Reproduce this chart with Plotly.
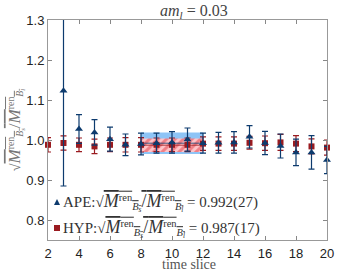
import plotly.graph_objects as go

# ---- data ----
t_ape = [3, 4, 5, 6, 7, 8, 9, 10, 11, 12, 13, 14, 15, 16, 17, 18, 19, 20]
ape_val = [1.123, 1.0275, 1.019, 1.002, 0.988, 0.990, 0.992, 0.994, 1.001, 0.992, 0.993, 0.994, 1.008, 0.9925, 0.985, 0.969, 0.969, 0.950]
ape_err = [0.238, 0.036, 0.032, 0.030, 0.027, 0.027, 0.025, 0.027, 0.029, 0.025, 0.026, 0.027, 0.028, 0.029, 0.030, 0.033, 0.042, 0.034]

t_hyp = [2, 3, 4, 5, 6, 7, 8, 9, 10, 11, 12, 13, 14, 15, 16, 17, 18, 19, 20]
hyp_val = [0.988, 0.9925, 0.988, 0.984, 0.988, 0.988, 0.988, 0.988, 0.988, 0.988, 0.991, 0.991, 0.991, 0.993, 0.992, 0.994, 0.991, 0.984, 0.981]
hyp_err = [0.018, 0.018, 0.017, 0.018, 0.017, 0.018, 0.018, 0.017, 0.017, 0.017, 0.017, 0.017, 0.017, 0.016, 0.018, 0.020, 0.020, 0.019, 0.019]

fit_range = [8, 12]
ape_fit, ape_fit_err = 0.992, 0.027
hyp_fit, hyp_fit_err = 0.987, 0.017

x_ticks = [2, 4, 6, 8, 10, 12, 14, 16, 18, 20]
y_ticks = [0.8, 0.9, 1.0, 1.1, 1.2, 1.3]
legend_labels = ["APE", "HYP"]
legend_values = ["0.992(27)", "0.987(17)"]

BLUE = "#0d3b6e"
RED = "#9a1b20"
SERIF = "Liberation Serif, DejaVu Serif, serif"
SANS = "Liberation Sans, Arial, sans-serif"

def ratio_txt(big):
    s = "<span style='font-size:%dpx'>" % big
    return ("√<span style='text-decoration:overline'>" + s + "<i>M</i></span><sup>ren</sup><sub><i>B<sub>s</sub></i></sub>"
            + s + "/<i>M</i></span><sup>ren</sup><sub><i>B<sub>l</sub></i></sub></span>")

fig = go.Figure()

# fit bands
x0, x1 = fit_range
fig.add_trace(go.Scatter(
    x=[x0, x1, x1, x0, x0],
    y=[ape_fit - ape_fit_err, ape_fit - ape_fit_err, ape_fit + ape_fit_err, ape_fit + ape_fit_err, ape_fit - ape_fit_err],
    fill="toself", fillcolor="rgba(130,190,245,0.9)", mode="lines", line=dict(width=0),
    showlegend=False, hoverinfo="skip"))
fig.add_trace(go.Scatter(
    x=[x0, x1, x1, x0, x0],
    y=[hyp_fit - hyp_fit_err, hyp_fit - hyp_fit_err, hyp_fit + hyp_fit_err, hyp_fit + hyp_fit_err, hyp_fit - hyp_fit_err],
    fill="toself", mode="lines", line=dict(width=0),
    fillpattern=dict(shape="/", fgcolor="#e23a44", bgcolor="#ffc4c8", size=6, solidity=0.5),
    showlegend=False, hoverinfo="skip"))
fig.add_trace(go.Scatter(x=[x0, x1], y=[ape_fit, ape_fit], mode="lines",
                         line=dict(color=BLUE, width=0.8), showlegend=False, hoverinfo="skip"))
fig.add_trace(go.Scatter(x=[x0, x1], y=[hyp_fit, hyp_fit], mode="lines",
                         line=dict(color=RED, width=0.8), showlegend=False, hoverinfo="skip"))

# HYP points
fig.add_trace(go.Scatter(
    x=t_hyp, y=hyp_val, mode="markers",
    error_y=dict(type="data", array=hyp_err, color=RED, thickness=1.2, width=3),
    marker=dict(symbol="square", size=6, color=RED),
    cliponaxis=False, showlegend=False, name=legend_labels[1]))

# APE points (first one clipped at the axis)
fig.add_trace(go.Scatter(
    x=t_ape[:1], y=ape_val[:1], mode="markers",
    error_y=dict(type="data", array=ape_err[:1], color=BLUE, thickness=1.2, width=3),
    marker=dict(symbol="triangle-up", size=7, color=BLUE),
    showlegend=False, name=legend_labels[0]))
fig.add_trace(go.Scatter(
    x=t_ape[1:], y=ape_val[1:], mode="markers",
    error_y=dict(type="data", array=ape_err[1:], color=BLUE, thickness=1.2, width=3),
    marker=dict(symbol="triangle-up", size=7, color=BLUE),
    cliponaxis=False, showlegend=False, name=legend_labels[0]))

# legend drawn as annotations + small marker shapes
PW, PH = 279.0, 220.0
def px_x(p):
    return (p - 48) / PW
def px_y(p):
    return (240 - p) / PH

leg_rows = [202, 228]
annotations = [
    dict(text="<i>am<sub>l</sub></i> = 0.03", xref="paper", yref="paper",
         x=px_x(194), y=px_y(12), xanchor="center", yanchor="middle", showarrow=False,
         font=dict(family=SERIF, size=16, color="#444444")),
    dict(text="time slice", xref="paper", yref="paper",
         x=px_x(189), y=px_y(264), xanchor="center", yanchor="middle", showarrow=False,
         font=dict(family=SERIF, size=14, color="#555555")),
]
for lab, val, row in zip(legend_labels, legend_values, leg_rows):
    annotations.append(dict(
        text=lab + ":" + ratio_txt(18) + " = " + val, xref="paper", yref="paper",
        x=px_x(61), y=px_y(row), xanchor="left", yanchor="middle", showarrow=False,
        font=dict(family=SERIF, size=15, color="#333333")))

shapes = [
    dict(type="path", xref="paper", yref="paper",
         path="M %f %f L %f %f L %f %f Z" % (px_x(54), px_y(205), px_x(60), px_y(205), px_x(57), px_y(199)),
         fillcolor=BLUE, line=dict(width=0)),
    dict(type="rect", xref="paper", yref="paper",
         x0=px_x(54), x1=px_x(60), y0=px_y(231), y1=px_y(225),
         fillcolor=RED, line=dict(width=0)),
]

fig.update_layout(
    width=361, height=271, autosize=False,
    margin=dict(l=48, r=34, t=20, b=31, pad=0, autoexpand=False),
    paper_bgcolor="white", plot_bgcolor="white",
    showlegend=False,
    annotations=annotations,
    shapes=shapes,
)
fig.update_xaxes(range=[2, 20], tickvals=x_ticks, ticktext=[str(v) for v in x_ticks],
                 ticks="inside", ticklen=4, tickcolor="#888888", automargin=False,
                 showline=True, linecolor="#999999", linewidth=1, mirror="ticks",
                 showgrid=False, zeroline=False, ticklabelstandoff=1,
                 tickfont=dict(family=SANS, size=13, color="#222222"))
fig.update_yaxes(range=[0.75, 1.3], tickvals=y_ticks, ticktext=["0.8", "0.9", "1.0", "1.1", "1.2", "1.3"],
                 ticks="inside", ticklen=4, tickcolor="#888888", automargin=False,
                 showline=True, linecolor="#999999", linewidth=1, mirror="ticks",
                 showgrid=False, zeroline=False,
                 tickfont=dict(family=SANS, size=13, color="#222222"),
                 title=dict(text=ratio_txt(17), font=dict(family=SERIF, size=14, color="#777777"), standoff=2))

fig.write_html("out.html", config=dict(displayModeBar=False),
               post_script="document.body.style.margin='0';")
